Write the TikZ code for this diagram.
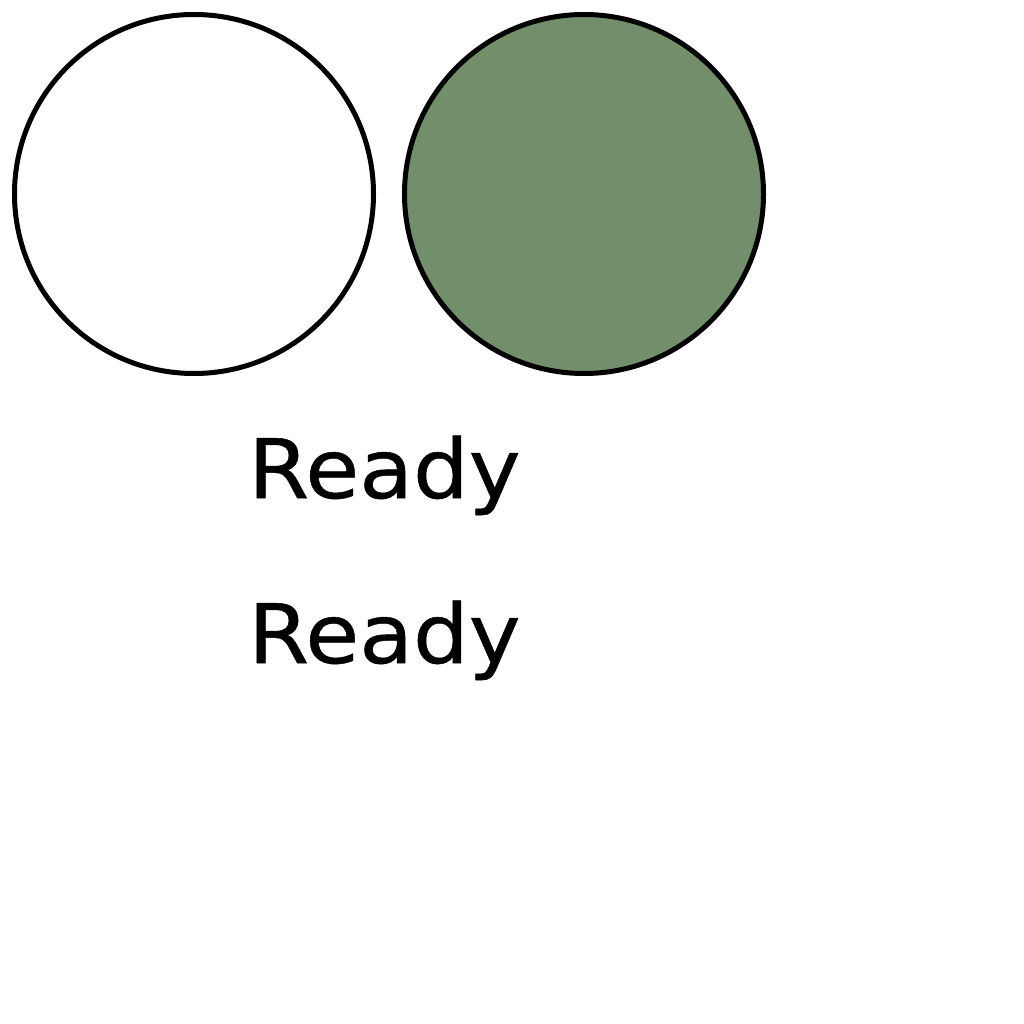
\documentclass[tikz,border=0pt]{standalone}
\usepackage{fontspec}
\setmainfont{DejaVu Sans}
\newfontfamily\vfont[FakeStretch=1.07,FakeBold=0.6]{DejaVu Sans}
\definecolor{sage}{HTML}{738E6B}
\begin{document}
\begin{tikzpicture}[x=1pt,y=-1pt,
  ring/.style={circle,draw=black,line width=5pt,minimum size=359pt,inner sep=0pt},
  lbl/.style={anchor=base west,inner sep=0pt,font=\vfont\fontsize{82}{98}\selectfont}]
\useasboundingbox (0,0) rectangle (1024,1024);
\node[ring,fill=white] (c1) at (194,194) {};
\node[ring,fill=sage] (c2) at (584,194) {};
\node[lbl] (t1) at (248,498) {Ready};
\node[lbl] (t2) at (248,663) {Ready};
\end{tikzpicture}
\end{document}
